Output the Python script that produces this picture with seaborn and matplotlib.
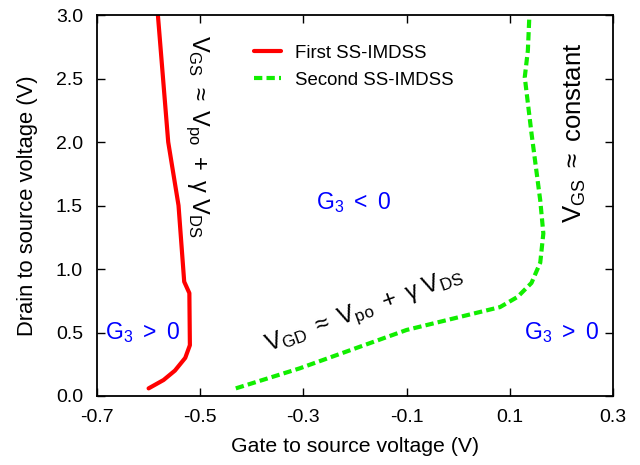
import matplotlib
matplotlib.use("Agg")
import matplotlib.pyplot as plt
import seaborn as sns
import pandas as pd

# First SS-IMDSS (red, solid)
first_vgs = [-0.600, -0.571, -0.549, -0.529, -0.520, -0.521, -0.531, -0.542, -0.562, -0.582]
first_vds = [0.06, 0.126, 0.20, 0.30, 0.40, 0.81, 0.90, 1.50, 2.00, 3.00]

# Second SS-IMDSS (green, dashed)
second_vgs = [-0.431, -0.307, -0.100, 0.081, 0.115, 0.142, 0.159, 0.165, 0.159, 0.142, 0.129, 0.135, 0.138]
second_vds = [0.06, 0.218, 0.52, 0.70, 0.78, 0.89, 1.05, 1.28, 1.54, 2.07, 2.51, 2.72, 3.00]

xticks = [-0.7, -0.5, -0.3, -0.1, 0.1, 0.3]
yticks = [0.0, 0.5, 1.0, 1.5, 2.0, 2.5, 3.0]

sns.set_style("ticks")
plt.rcParams['font.family'] = ['Liberation Sans', 'DejaVu Sans']
plt.rcParams['mathtext.fontset'] = 'custom'
plt.rcParams['mathtext.rm'] = 'Liberation Sans'
plt.rcParams['mathtext.it'] = 'Liberation Sans'
plt.rcParams['mathtext.bf'] = 'Liberation Sans:bold'
plt.rcParams['text.color'] = 'black'
plt.rcParams['axes.labelcolor'] = 'black'
plt.rcParams['xtick.color'] = 'black'
plt.rcParams['ytick.color'] = 'black'

df1 = pd.DataFrame({"x": first_vgs, "y": first_vds})
df2 = pd.DataFrame({"x": second_vgs, "y": second_vds})

fig = plt.figure(figsize=(6.4, 4.65), dpi=100)
ax = fig.add_axes([97/640, 1 - 396/465, 516/640, 381/465])

sns.lineplot(data=df1, x="x", y="y", sort=False, estimator=None, color="#ff0000",
             lw=3, ax=ax, label="First SS-IMDSS")
sns.lineplot(data=df2, x="x", y="y", sort=False, estimator=None, color="#11ee00",
             lw=3, ax=ax, label="Second SS-IMDSS", linestyle=(0, (2.0, 1.0)))

ax.set_xlim(-0.7, 0.3)
ax.set_ylim(0, 3.0)
ax.set_xticks(xticks)
ax.set_xticklabels([f"{v:.1f}" for v in xticks])
ax.set_yticks(yticks)
ax.set_yticklabels([f"{v:.1f}" for v in yticks])
ax.tick_params(direction="in", top=True, right=True, length=6, width=1,
               labelsize=14, pad=9)
ax.tick_params(axis="y", pad=10)
for s in ax.spines.values():
    s.set_linewidth(1.3)
    s.set_color("black")
ax.set_xlabel("Gate to source voltage (V)", fontsize=15.3, labelpad=8)
ax.set_ylabel("Drain to source voltage (V)", fontsize=15.8, labelpad=13)

leg = ax.legend(loc="center left", bbox_to_anchor=(0.29, 0.864), frameon=False,
                fontsize=13.4, handlelength=1.45, handletextpad=0.75,
                labelspacing=0.55, borderaxespad=0)

ax.text(-0.507, 2.04, r"$\mathregular{V_{GS}\ \approx\ V_{po}\ +\ \gamma\ V_{DS}}$",
        rotation=-90, fontsize=17, ha="center", va="center")
ax.text(0.226, 2.07, r"$\mathregular{V_{GS}\ \approx\ constant}$",
        rotation=90, fontsize=18.5, ha="center", va="center")
ax.text(-0.181, 0.67, r"$\mathregular{V_{GD}\ \approx\ V_{po}\ +\ \gamma\ V_{DS}}$",
        rotation=20, fontsize=17.5, ha="center", va="center", rotation_mode="anchor")

ax.text(-0.202, 1.52, r"$\mathregular{G_3\ <\ 0}$", color="#0000ff", fontsize=16.5,
        ha="center", va="center")
ax.text(-0.611, 0.50, r"$\mathregular{G_3\ >\ 0}$", color="#0000ff", fontsize=16.5,
        ha="center", va="center")
ax.text(0.201, 0.50, r"$\mathregular{G_3\ >\ 0}$", color="#0000ff", fontsize=16.5,
        ha="center", va="center")

fig.savefig("out.png", dpi=100)
